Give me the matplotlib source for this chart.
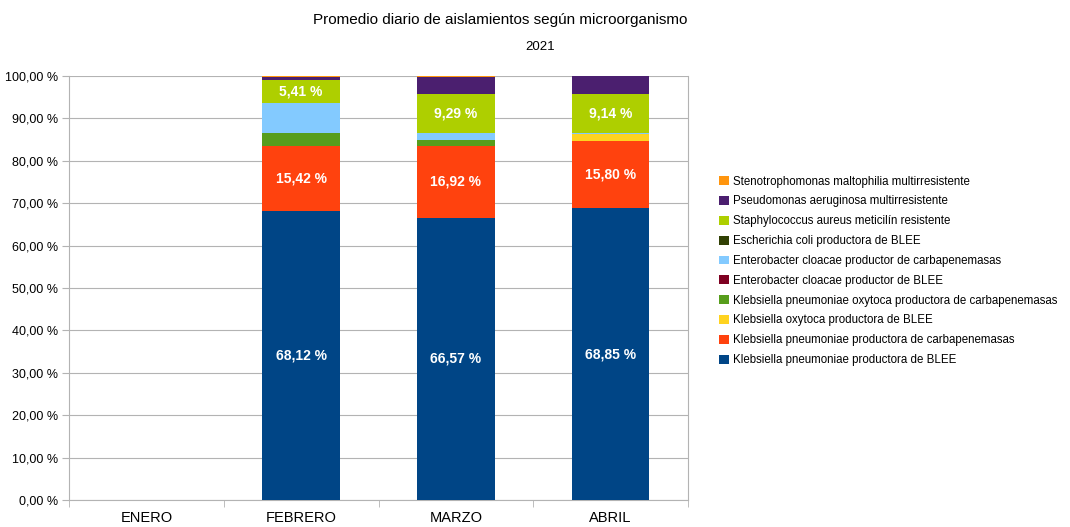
import matplotlib
matplotlib.use('Agg')
import matplotlib.pyplot as plt
from matplotlib.ticker import FixedLocator, NullFormatter
import numpy as np

plt.rcParams['font.family'] = ['Liberation Sans', 'DejaVu Sans']

months = ['ENERO', 'FEBRERO', 'MARZO', 'ABRIL']

# stacking order, bottom to top (legend shows them reversed)
series = [
    'Klebsiella pneumoniae productora de BLEE',
    'Klebsiella pneumoniae productora de carbapenemasas',
    'Klebsiella oxytoca productora de BLEE',
    'Klebsiella pneumoniae oxytoca productora de carbapenemasas',
    'Enterobacter cloacae productor de BLEE',
    'Enterobacter cloacae productor de carbapenemasas',
    'Escherichia coli productora de BLEE',
    'Staphylococcus aureus meticilín resistente',
    'Pseudomonas aeruginosa multirresistente',
    'Stenotrophomonas maltophilia multirresistente',
]
colors = ['#004586', '#ff420e', '#ffd320', '#579d1c', '#7e0021',
          '#83caff', '#314004', '#aecf00', '#4b1f6f', '#ff950e']

kp_blee = [0, 68.12, 66.57, 68.85]
kp_carba = [0, 15.42, 16.92, 15.80]
ko_blee = [0, 0, 0, 1.60]
kpo_carba = [0, 2.92, 1.40, 0]
ec_blee = [0, 0, 0, 0]
ec_carba = [0, 7.10, 1.60, 0.25]
ecoli_blee = [0, 0, 0, 0]
staph = [0, 5.41, 9.29, 9.14]
pseudo = [0, 0.78, 3.95, 4.36]
steno = [0, 0.25, 0.27, 0]

values = [kp_blee, kp_carba, ko_blee, kpo_carba, ec_blee,
          ec_carba, ecoli_blee, staph, pseudo, steno]
labelled = [0, 1, 7]  # series that carry a data label

fig = plt.figure(figsize=(10.7, 5.27), dpi=100)
ax = fig.add_axes([0.0645, 0.0512, 0.5785, 0.8046])

x = np.arange(len(months))
bottom = np.zeros(len(months))
for i, (name, vals, c) in enumerate(zip(series, values, colors)):
    vals = np.array(vals)
    ax.bar(x, vals, 0.5, bottom=bottom, color=c, label=name, zorder=3)
    if i in labelled:
        for xi, v, b0 in zip(x, vals, bottom):
            if v > 0:
                ax.text(xi, b0 + v / 2, f'{v:.2f} %'.replace('.', ','),
                        ha='center', va='center', color='white',
                        fontsize=10, fontweight='bold', zorder=4)
    bottom += vals

ax.set_xlim(-0.5, len(months) - 0.5)
ax.set_ylim(0, 100)
ax.set_yticks(np.arange(0, 101, 10))
ax.set_yticklabels([f'{v:.2f} %'.replace('.', ',') for v in np.arange(0, 101, 10)],
                   fontsize=9)
ax.set_xticks(x)
ax.set_xticklabels(months, fontsize=10.5)
ax.xaxis.set_minor_locator(FixedLocator(np.arange(-0.5, len(months), 1)))
ax.xaxis.set_minor_formatter(NullFormatter())
ax.tick_params(axis='x', which='major', length=0, pad=8)
ax.tick_params(axis='x', which='minor', length=5, color='#b3b3b3')
ax.tick_params(axis='y', length=5, color='#b3b3b3', pad=3)
ax.grid(axis='y', color='#b3b3b3', linewidth=0.8, zorder=0)
for side in ['left', 'right', 'bottom', 'top']:
    ax.spines[side].set_color('#b3b3b3')
    ax.spines[side].set_linewidth(0.8)
ax.spines['top'].set_visible(False)

handles, labels = ax.get_legend_handles_labels()
fig.legend(handles[::-1], labels[::-1], loc='center left',
           bbox_to_anchor=(0.668, 0.486), frameon=False, fontsize=8.3,
           handlelength=0.8, handleheight=0.8, handletextpad=0.35,
           labelspacing=0.68, borderaxespad=0)

fig.text(0.467, 0.962, 'Promedio diario de aislamientos según microorganismo',
         ha='center', va='center', fontsize=11)
fig.text(0.505, 0.91, '2021', ha='center', va='center', fontsize=9.5)

fig.savefig('out.png', dpi=100)
